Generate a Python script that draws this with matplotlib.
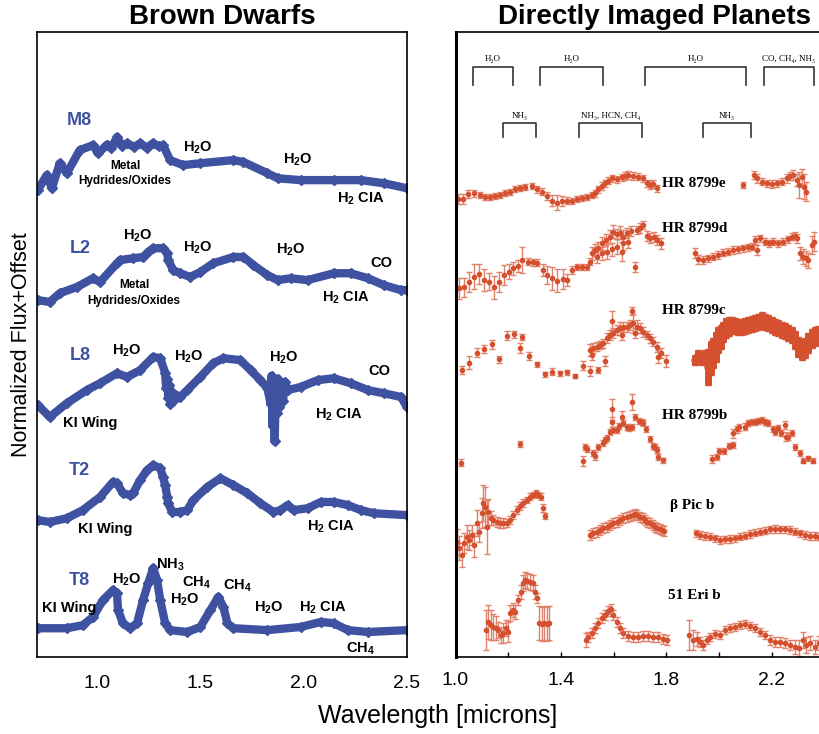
import matplotlib
matplotlib.use('Agg')
import matplotlib.pyplot as plt

plt.rcParams['font.family'] = ['Liberation Sans', 'DejaVu Sans']
plt.rcParams['mathtext.fontset'] = 'custom'
plt.rcParams['mathtext.rm'] = 'Liberation Sans:bold'
plt.rcParams['mathtext.it'] = 'Liberation Sans:bold'
plt.rcParams['mathtext.bf'] = 'Liberation Sans:bold'

BLUE = '#3f52a2'
RED = '#d4502f'
SERIF = ['Liberation Serif', 'DejaVu Serif']

# ---- brown dwarf spectra (wavelength in microns, normalized flux + offset)
m8_wl = [0.714, 0.757, 0.782, 0.820, 0.854, 0.917, 0.981, 1.005, 1.050, 1.070, 1.097, 1.120, 1.146,
         1.180, 1.209, 1.240, 1.272, 1.300, 1.320, 1.354, 1.417, 1.500, 1.660, 1.709, 1.825, 1.874,
         1.985, 2.146, 2.277, 2.388, 2.500]
m8_flux = [7.47, 7.71, 7.50, 7.90, 7.74, 8.11, 8.19, 8.06, 8.20, 8.14, 8.32, 8.18, 8.22,
           8.16, 8.22, 8.15, 8.22, 8.17, 8.19, 7.95, 7.87, 7.90, 7.95, 7.92, 7.74, 7.66,
           7.63, 7.63, 7.63, 7.58, 7.50]

l2_wl = [0.714, 0.772, 0.820, 0.903, 0.981, 1.015, 1.097, 1.112, 1.175, 1.223, 1.248, 1.272, 1.320,
         1.340, 1.345, 1.369, 1.403, 1.451, 1.500, 1.563, 1.660, 1.709, 1.757, 1.825, 1.874, 1.937,
         2.019, 2.146, 2.228, 2.311, 2.388, 2.471, 2.500]
l2_flux = [5.71, 5.68, 5.82, 5.92, 6.06, 6.00, 6.30, 6.35, 6.38, 6.40, 6.48, 6.54, 6.54,
           6.46, 6.35, 6.19, 6.14, 6.08, 6.16, 6.30, 6.40, 6.40, 6.27, 6.11, 6.03, 6.06,
           6.03, 6.14, 6.14, 6.06, 5.95, 5.87, 5.87]

l8_wl = [0.714, 0.772, 0.854, 0.951, 1.015, 1.097, 1.146, 1.209, 1.272, 1.306, 1.330, 1.335, 1.340,
         1.345, 1.350, 1.355, 1.360, 1.370, 1.380, 1.403, 1.437, 1.500, 1.563, 1.612, 1.694, 1.743,
         1.791, 1.825, 1.840, 1.845, 1.850, 1.855, 1.860, 1.865, 1.870, 1.875, 1.880, 1.890, 1.900,
         1.910, 1.922, 1.985, 2.068, 2.146, 2.228, 2.311, 2.388, 2.471, 2.500]
l8_flux = [4.03, 3.84, 4.06, 4.27, 4.38, 4.54, 4.48, 4.59, 4.80, 4.78, 4.55, 4.30, 4.45,
           4.15, 4.35, 4.05, 4.25, 4.10, 4.20, 4.16, 4.27, 4.48, 4.70, 4.78, 4.75, 4.59,
           4.43, 4.30, 4.05, 4.50, 3.70, 4.40, 3.45, 4.35, 3.90, 4.45, 4.00, 4.35, 4.10,
           4.40, 4.27, 4.32, 4.43, 4.46, 4.38, 4.27, 4.22, 4.16, 4.00]

t2_wl = [0.714, 0.772, 0.854, 0.932, 1.015, 1.078, 1.097, 1.126, 1.160, 1.175, 1.209, 1.243, 1.272,
         1.306, 1.320, 1.330, 1.340, 1.345, 1.364, 1.403, 1.437, 1.466, 1.534, 1.597, 1.660, 1.728,
         1.791, 1.854, 1.888, 1.922, 1.951, 2.019, 2.083, 2.146, 2.214, 2.277, 2.340, 2.500]
t2_flux = [2.19, 2.16, 2.22, 2.35, 2.56, 2.80, 2.78, 2.62, 2.59, 2.62, 2.83, 2.99, 3.07,
           3.02, 2.88, 2.75, 2.56, 2.46, 2.32, 2.32, 2.35, 2.51, 2.72, 2.86, 2.75, 2.62,
           2.46, 2.32, 2.35, 2.43, 2.35, 2.38, 2.48, 2.48, 2.43, 2.35, 2.30, 2.27]

t8_wl = [0.714, 0.854, 0.932, 0.981, 1.029, 1.078, 1.097, 1.102, 1.126, 1.160, 1.194, 1.223, 1.248,
         1.272, 1.291, 1.306, 1.330, 1.354, 1.437, 1.500, 1.549, 1.587, 1.612, 1.631, 1.660, 1.825,
         1.985, 2.083, 2.146, 2.214, 2.311, 2.500]
t8_flux = [0.46, 0.46, 0.51, 0.64, 0.91, 1.07, 1.02, 0.75, 0.54, 0.46, 0.54, 0.91, 1.18,
           1.42, 1.23, 0.91, 0.54, 0.43, 0.40, 0.48, 0.75, 0.96, 0.80, 0.54, 0.46, 0.43,
           0.48, 0.56, 0.54, 0.43, 0.40, 0.43]

# ---- directly imaged planets (wavelength, flux + offset, 1-sigma error)
hr8799e_wl = [1.011, 1.030, 1.049, 1.070, 1.093, 1.112, 1.131, 1.150, 1.169, 1.188, 1.207, 1.226, 1.245,
              1.264, 1.289, 1.308, 1.327, 1.346, 1.365, 1.384, 1.403, 1.422, 1.441, 1.460, 1.478, 1.497,
              1.516, 1.529, 1.542, 1.554, 1.567, 1.580, 1.592, 1.611, 1.630, 1.643, 1.655, 1.674, 1.693,
              1.712, 1.725, 1.738, 1.750, 1.765,
              2.091, 2.132, 2.142, 2.161, 2.180, 2.199, 2.218, 2.237, 2.256, 2.268, 2.281, 2.294, 2.304,
              2.313, 2.321, 2.329]
hr8799e_flux = [7.323, 7.323, 7.408, 7.419, 7.392, 7.365, 7.355, 7.376, 7.392, 7.419, 7.445, 7.483, 7.499,
                7.515, 7.536, 7.483, 7.445, 7.376, 7.301, 7.269, 7.301, 7.301, 7.301, 7.323, 7.339, 7.365,
                7.392, 7.419, 7.483, 7.536, 7.579, 7.621, 7.659, 7.643, 7.675, 7.696, 7.712, 7.696, 7.685,
                7.659, 7.579, 7.552, 7.568, 7.499,
                7.552, 7.712, 7.659, 7.605, 7.579, 7.568, 7.579, 7.605, 7.659, 7.696, 7.712, 7.632, 7.552,
                7.685, 7.525, 7.445]
hr8799e_err = [0.08, 0.08, 0.07, 0.06, 0.05, 0.05, 0.05, 0.05, 0.05, 0.05, 0.05, 0.05, 0.05,
               0.05, 0.05, 0.06, 0.06, 0.07, 0.09, 0.12, 0.08, 0.06, 0.05, 0.05, 0.05, 0.05,
               0.05, 0.06, 0.06, 0.06, 0.06, 0.06, 0.06, 0.06, 0.06, 0.06, 0.06, 0.06, 0.06,
               0.06, 0.06, 0.06, 0.06, 0.06,
               0.05, 0.07, 0.07, 0.06, 0.06, 0.06, 0.06, 0.06, 0.07, 0.07, 0.08, 0.10, 0.21,
               0.12, 0.20, 0.15]

hr8799d_wl = [1.015, 1.032, 1.053, 1.070, 1.090, 1.108, 1.128, 1.146, 1.166, 1.184, 1.204, 1.219, 1.238,
              1.251, 1.276, 1.295, 1.310, 1.331, 1.348, 1.367, 1.386, 1.406, 1.424, 1.441, 1.459, 1.478,
              1.497, 1.510, 1.516, 1.529, 1.542, 1.554, 1.571, 1.586, 1.598, 1.611, 1.624, 1.636, 1.649,
              1.664, 1.681, 1.687, 1.700, 1.712, 1.725, 1.738, 1.753, 1.765, 1.778,
              1.535, 1.554, 1.573, 1.592, 1.611, 1.630, 1.636, 1.655,
              1.908, 1.921, 1.940, 1.959, 1.978, 1.997, 2.016, 2.035, 2.053, 2.072, 2.091, 2.110, 2.123,
              2.136, 2.144, 2.155, 2.174, 2.190, 2.205, 2.224, 2.243, 2.262, 2.275, 2.287, 2.296, 2.306,
              2.319, 2.329, 2.338, 2.350, 2.359]
hr8799d_flux = [5.899, 5.915, 6.005, 6.085, 6.123, 6.032, 6.005, 5.915, 6.005, 6.112, 6.165, 6.219, 6.256,
                6.352, 6.325, 6.315, 6.309, 6.192, 6.112, 6.059, 6.021, 6.043, 6.032, 6.192, 6.245, 6.245,
                6.245, 6.325, 6.459, 6.512, 6.539, 6.619, 6.672, 6.725, 6.805, 6.768, 6.789, 6.725, 6.789,
                6.821, 6.235, 6.832, 6.859, 6.912, 6.736, 6.699, 6.725, 6.672, 6.619,
                6.405, 6.459, 6.485, 6.523, 6.565, 6.485, 6.619, 6.645,
                6.459, 6.363, 6.352, 6.379, 6.405, 6.432, 6.469, 6.485, 6.512, 6.523, 6.539, 6.555, 6.565,
                6.672, 6.512, 6.699, 6.645, 6.619, 6.645, 6.619, 6.645, 6.683, 6.725, 6.736, 6.699, 6.459,
                6.405, 6.379, 6.352, 6.592, 6.645]
hr8799d_err = [0.17, 0.15, 0.16, 0.20, 0.16, 0.17, 0.14, 0.18, 0.16, 0.16, 0.12, 0.10, 0.09,
               0.20, 0.06, 0.06, 0.06, 0.10, 0.15, 0.18, 0.18, 0.16, 0.10, 0.06, 0.05, 0.05,
               0.05, 0.06, 0.10, 0.10, 0.10, 0.10, 0.10, 0.10, 0.10, 0.08, 0.10, 0.10, 0.08,
               0.08, 0.08, 0.07, 0.08, 0.07, 0.08, 0.08, 0.08, 0.08, 0.09,
               0.10, 0.10, 0.12, 0.10, 0.12, 0.15, 0.10, 0.10,
               0.08, 0.07, 0.07, 0.06, 0.06, 0.06, 0.06, 0.06, 0.06, 0.06, 0.06, 0.06, 0.06,
               0.06, 0.08, 0.06, 0.06, 0.06, 0.06, 0.06, 0.06, 0.06, 0.06, 0.07, 0.07, 0.10,
               0.12, 0.12, 0.12, 0.15, 0.15]

hr8799c_wl = [1.023, 1.053, 1.080, 1.109, 1.137, 1.166, 1.197, 1.223, 1.245, 1.251, 1.280, 1.310, 1.339,
              1.367, 1.396, 1.424, 1.453, 1.482, 1.510, 1.539, 1.567, 1.510, 1.516, 1.523, 1.535, 1.548,
              1.561, 1.573, 1.586, 1.595, 1.598, 1.611, 1.624, 1.630, 1.636, 1.649, 1.662, 1.668, 1.674,
              1.681, 1.687, 1.700, 1.712, 1.725, 1.738, 1.750, 1.763, 1.769, 1.778, 1.798]
hr8799c_flux = [4.592, 4.709, 4.869, 4.928, 5.003, 4.763, 5.141, 5.163, 4.949, 5.125, 4.816, 4.683, 4.528,
                4.565, 4.539, 4.555, 4.501, 4.661, 4.576, 4.592, 4.741, 4.912, 4.832, 4.939, 4.965, 4.992,
                5.019, 5.099, 5.152, 5.381, 5.179, 5.232, 5.259, 5.152, 5.285, 5.285, 5.312, 5.536, 5.339,
                5.179, 5.285, 5.259, 5.205, 5.152, 5.099, 5.045, 4.965, 4.805, 4.859, 4.736]
hr8799c_err = [0.07, 0.10, 0.07, 0.06, 0.07, 0.06, 0.07, 0.06, 0.08, 0.05, 0.06, 0.04, 0.04,
               0.06, 0.04, 0.04, 0.03, 0.07, 0.08, 0.05, 0.08,
               0.10, 0.08, 0.08, 0.07, 0.07, 0.07, 0.08, 0.08, 0.15, 0.08, 0.08, 0.10, 0.08,
               0.08, 0.08, 0.08, 0.07, 0.15, 0.08, 0.10, 0.08, 0.08, 0.07, 0.07, 0.07, 0.08,
               0.10, 0.08, 0.10]
# K band of HR 8799c: very densely sampled
hr8799c_k_wl = [1.908, 1.921, 1.933, 1.946, 1.959, 1.968, 1.978, 1.986, 1.997, 2.005, 2.016, 2.026, 2.036,
                2.047, 2.060, 2.072, 2.085, 2.098, 2.110, 2.123, 2.136, 2.148, 2.161, 2.174, 2.186, 2.199,
                2.211, 2.224, 2.237, 2.249, 2.262, 2.275, 2.287, 2.300, 2.313, 2.325, 2.338, 2.350, 2.363,
                2.376]
hr8799c_k_flux = [4.752, 4.832, 4.752, 4.832, 4.645, 4.779, 4.859, 4.965, 5.072, 5.125, 5.205, 5.259, 5.285,
                  5.312, 5.296, 5.285, 5.275, 5.296, 5.312, 5.328, 5.339, 5.365, 5.392, 5.365, 5.339, 5.312,
                  5.285, 5.259, 5.232, 5.221, 5.189, 5.152, 5.072, 4.965, 4.912, 4.939, 5.019, 5.099, 5.125,
                  5.152]
hr8799c_k_err = [0.08, 0.08, 0.08, 0.08, 0.29, 0.27, 0.24, 0.24, 0.21, 0.19, 0.16, 0.16, 0.15,
                 0.13, 0.13, 0.13, 0.13, 0.13, 0.13, 0.13, 0.13, 0.13, 0.13, 0.13, 0.13, 0.13,
                 0.13, 0.13, 0.13, 0.13, 0.13, 0.13, 0.15, 0.16, 0.16, 0.16, 0.16, 0.15, 0.15,
                 0.15]

hr8799b_wl = [1.021, 1.245, 1.482, 1.491, 1.500, 1.520, 1.529, 1.542, 1.558, 1.567, 1.576, 1.586, 1.592,
              1.595, 1.598, 1.611, 1.621, 1.630, 1.636, 1.649, 1.659, 1.668, 1.668, 1.681, 1.697, 1.706,
              1.712, 1.722, 1.738, 1.748, 1.756, 1.763, 1.769, 1.788, 1.971, 1.990, 2.000, 2.019, 2.038,
              2.053, 2.051, 2.069, 2.076, 2.098, 2.110, 2.123, 2.136, 2.148, 2.161, 2.174, 2.186, 2.203,
              2.211, 2.224, 2.233, 2.249, 2.253, 2.262, 2.275, 2.287, 2.306, 2.319, 2.338, 2.357]
hr8799b_flux = [3.109, 3.408, 3.141, 3.355, 3.323, 3.269, 3.216, 3.365, 3.419, 3.472, 3.499, 3.605, 3.963,
                3.765, 3.632, 3.632, 3.696, 3.835, 3.739, 3.685, 3.659, 4.085, 3.685, 3.845, 3.781, 3.765,
                3.749, 3.643, 3.483, 3.376, 3.355, 3.312, 3.205, 3.152, 3.168, 3.205, 3.296, 3.296, 3.376,
                3.392, 3.579, 3.643, 3.675, 3.685, 3.739, 3.760, 3.765, 3.781, 3.792, 3.760, 3.739, 3.643,
                3.605, 3.659, 3.589, 3.712, 3.525, 3.525, 3.579, 3.365, 3.259, 3.141, 3.179, 3.141]
hr8799b_err = [0.06, 0.05, 0.08, 0.05, 0.05, 0.05, 0.07, 0.05, 0.05, 0.05, 0.05, 0.05, 0.17,
               0.08, 0.05, 0.05, 0.05, 0.10, 0.05, 0.05, 0.05, 0.13, 0.05, 0.05, 0.05, 0.05,
               0.05, 0.05, 0.05, 0.05, 0.05, 0.05, 0.05, 0.04, 0.06, 0.05, 0.05, 0.05, 0.05,
               0.05, 0.07, 0.06, 0.06, 0.06, 0.05, 0.05, 0.05, 0.05, 0.05, 0.05, 0.05, 0.05,
               0.05, 0.05, 0.05, 0.06, 0.07, 0.06, 0.05, 0.05, 0.05, 0.04, 0.04, 0.04]

betapic_wl = [1.004, 1.015, 1.023, 1.032, 1.042, 1.053, 1.061, 1.070, 1.080, 1.090, 1.099, 1.106, 1.112,
              1.118, 1.125, 1.133, 1.144, 1.156, 1.169, 1.181, 1.194, 1.207, 1.219, 1.232, 1.245, 1.257,
              1.270, 1.283, 1.295, 1.305, 1.314, 1.323, 1.333, 1.339,
              1.510, 1.523, 1.535, 1.548, 1.561, 1.573, 1.586, 1.598, 1.611, 1.624, 1.636, 1.649, 1.662,
              1.672, 1.681, 1.689, 1.700, 1.710, 1.718, 1.727, 1.738, 1.748, 1.756, 1.765, 1.775, 1.783,
              1.791,
              1.912, 1.927, 1.946, 1.965, 1.984, 2.003, 2.022, 2.041, 2.060, 2.079, 2.098, 2.117, 2.136,
              2.155, 2.174, 2.193, 2.211, 2.230, 2.249, 2.268, 2.287, 2.306, 2.325, 2.344, 2.363, 2.380]
betapic_flux = [1.845, 1.739, 1.632, 1.819, 1.925, 1.872, 1.952, 1.792, 2.139, 2.005, 2.299, 2.459, 2.405,
                2.085, 2.325, 2.219, 2.192, 2.165, 2.149, 2.139, 2.149, 2.192, 2.272, 2.352, 2.416, 2.459,
                2.512, 2.565, 2.592, 2.619, 2.592, 2.565, 2.379, 2.256,
                1.952, 1.979, 2.005, 2.032, 2.059, 2.085, 2.112, 2.139, 2.165, 2.192, 2.219, 2.235, 2.256,
                2.272, 2.288, 2.272, 2.245, 2.219, 2.192, 2.165, 2.139, 2.112, 2.085, 2.064, 2.043, 2.032,
                2.016,
                1.979, 1.952, 1.936, 1.925, 1.899, 1.872, 1.883, 1.888, 1.899, 1.925, 1.941, 1.968, 1.989,
                2.005, 2.021, 2.043, 2.048, 2.043, 2.043, 2.032, 2.005, 1.979, 1.952, 1.936, 1.936, 1.925]
betapic_err = [0.21, 0.19, 0.19, 0.16, 0.19, 0.16, 0.16, 0.19, 0.21, 0.16, 0.24, 0.29, 0.32,
               0.43, 0.21, 0.11, 0.08, 0.08, 0.08, 0.08, 0.064, 0.064, 0.064, 0.064, 0.064, 0.064,
               0.053, 0.053, 0.053, 0.053, 0.053, 0.053, 0.064, 0.053,
               0.08, 0.08, 0.08, 0.08, 0.08, 0.08, 0.08, 0.08, 0.08, 0.08, 0.08, 0.08, 0.08,
               0.08, 0.08, 0.08, 0.08, 0.08, 0.08, 0.08, 0.08, 0.08, 0.08, 0.08, 0.08, 0.08,
               0.08,
               0.06, 0.06, 0.06, 0.06, 0.06, 0.06, 0.06, 0.06, 0.06, 0.06, 0.06, 0.06, 0.06,
               0.06, 0.06, 0.06, 0.06, 0.06, 0.06, 0.06, 0.06, 0.06, 0.06, 0.06, 0.06, 0.06]

eri51_wl = [1.116, 1.125, 1.133, 1.144, 1.154, 1.163, 1.171, 1.181, 1.192, 1.200, 1.207, 1.217, 1.226,
            1.238, 1.247, 1.255, 1.264, 1.272, 1.283, 1.293, 1.302, 1.310, 1.318, 1.327, 1.336, 1.346,
            1.353,
            1.495, 1.504, 1.516, 1.529, 1.542, 1.554, 1.567, 1.580, 1.588, 1.598, 1.611, 1.624, 1.636,
            1.655, 1.674, 1.693, 1.712, 1.731, 1.750, 1.769, 1.788, 1.801,
            1.887, 1.899, 1.914, 1.927, 1.940, 1.952, 1.965, 1.984, 2.003, 2.022, 2.041, 2.060, 2.079,
            2.098, 2.117, 2.136, 2.155, 2.174, 2.193, 2.211, 2.230, 2.249, 2.268, 2.287, 2.304, 2.316,
            2.329, 2.344, 2.363, 2.380]
eri51_flux = [0.432, 0.565, 0.512, 0.485, 0.459, 0.432, 0.352, 0.379, 0.459, 0.405, 0.699, 0.752, 0.725,
              0.912, 1.045, 1.179, 1.232, 1.221, 1.205, 1.179, 1.045, 0.939, 0.539, 0.528, 0.539, 0.528,
              0.539,
              0.272, 0.325, 0.379, 0.459, 0.539, 0.619, 0.672, 0.741, 0.763, 0.672, 0.565, 0.459, 0.379,
              0.336, 0.325, 0.325, 0.336, 0.336, 0.315, 0.315, 0.283, 0.272,
              0.352, 0.272, 0.283, 0.245, 0.192, 0.272, 0.325, 0.368, 0.352, 0.432, 0.459, 0.485, 0.512,
              0.528, 0.496, 0.459, 0.405, 0.352, 0.272, 0.245, 0.245, 0.219, 0.192, 0.165, 0.139, 0.272,
              0.192, 0.219, 0.165, 0.219]
eri51_err = [0.32, 0.27, 0.24, 0.21, 0.19, 0.13, 0.13, 0.16, 0.13, 0.16, 0.13, 0.11, 0.11,
             0.08, 0.11, 0.13, 0.13, 0.13, 0.13, 0.13, 0.11, 0.08, 0.27, 0.27, 0.27, 0.27,
             0.27,
             0.11, 0.08, 0.08, 0.08, 0.08, 0.08, 0.08, 0.08, 0.08, 0.08, 0.08, 0.08, 0.08,
             0.08, 0.08, 0.08, 0.08, 0.08, 0.08, 0.08, 0.08, 0.08,
             0.24, 0.16, 0.11, 0.08, 0.08, 0.064, 0.064, 0.064, 0.064, 0.064, 0.064, 0.064, 0.064,
             0.064, 0.064, 0.064, 0.064, 0.064, 0.08, 0.08, 0.08, 0.08, 0.08, 0.11, 0.13, 0.13,
             0.13, 0.11, 0.11, 0.11]

# absorption bands marked above the planet spectra
bands_top = ['H₂O', 'H₂O', 'H₂O', 'CO, CH₄, NH₃']
bands_top_range = [(1.066, 1.218), (1.320, 1.559), (1.718, 2.101), (2.169, 2.359)]
bands_low = ['NH₃', 'NH₃, HCN, CH₄', 'NH₃']
bands_low_range = [(1.180, 1.305), (1.468, 1.707), (1.938, 2.120)]

fig = plt.figure(figsize=(8.2, 7.34), dpi=100)
ax1 = fig.add_axes([37 / 820, 77 / 734, 370 / 820, 625 / 734])
ax2 = fig.add_axes([455.5 / 820, 77 / 734, 395.6 / 820, 625 / 734])

# ---------------- left: brown dwarfs
for wl, fl in [(m8_wl, m8_flux), (l2_wl, l2_flux), (l8_wl, l8_flux), (t2_wl, t2_flux), (t8_wl, t8_flux)]:
    ax1.plot(wl, fl, '-', color=BLUE, lw=6, solid_joinstyle='round', solid_capstyle='round')
    ax1.plot(wl, fl, 'D', color=BLUE, ms=5)

ax1.set_xlim(0.71, 2.5)
ax1.set_ylim(0, 10)
ax1.set_yticks([])
ax1.set_xticks([1.0, 1.5, 2.0, 2.5])
ax1.set_xticklabels(['1.0', '1.5', '2.0', '2.5'])
ax1.tick_params(axis='x', length=0, pad=13, labelsize=14)
for s in ax1.spines.values():
    s.set_linewidth(1.2)

sp_labels = [('M8', 0.917, 8.58), ('L2', 0.917, 6.53), ('L8', 0.917, 4.83),
             ('T2', 0.917, 2.99), ('T8', 0.917, 1.22)]
for txt, x, y in sp_labels:
    ax1.text(x, y, txt, color=BLUE, fontsize=13, fontweight='bold', ha='center', va='center')

feat = [('H$_2$O', 1.490, 8.14), ('H$_2$O', 1.971, 7.95), ('H$_2$ CIA', 2.277, 7.33),
        ('H$_2$O', 1.199, 6.74), ('H$_2$O', 1.490, 6.54), ('H$_2$O', 1.937, 6.51),
        ('CO', 2.374, 6.30), ('H$_2$ CIA', 2.204, 5.74),
        ('H$_2$O', 1.146, 4.90), ('H$_2$O', 1.442, 4.80), ('H$_2$O', 1.903, 4.78),
        ('CO', 2.364, 4.58), ('KI Wing', 0.966, 3.74), ('H$_2$ CIA', 2.170, 3.87),
        ('KI Wing', 1.039, 2.05), ('H$_2$ CIA', 2.131, 2.08),
        ('H$_2$O', 1.146, 1.23), ('NH$_3$', 1.354, 1.47), ('CH$_4$', 1.481, 1.18),
        ('H$_2$O', 1.427, 0.91), ('CH$_4$', 1.680, 1.14), ('H$_2$O', 1.830, 0.78),
        ('H$_2$ CIA', 2.092, 0.78), ('KI Wing', 0.864, 0.78), ('CH$_4$', 2.277, 0.13)]
for txt, x, y in feat:
    ax1.text(x, y, txt, fontsize=10.5, fontweight='bold', ha='center', va='center')

for x, y in [(1.136, 7.86), (1.180, 5.95)]:
    ax1.text(x, y, 'Metal', fontsize=8.5, fontweight='bold', ha='center', va='center')
for x, y in [(1.136, 7.62), (1.180, 5.70)]:
    ax1.text(x, y, 'Hydrides/Oxides', fontsize=8.5, fontweight='bold', ha='center', va='center')

# ---------------- right: directly imaged planets
eb = dict(fmt='o', color=RED, ms=3, ecolor='#e2816a', elinewidth=1, capsize=2.4, capthick=1)
planets = [(hr8799e_wl, hr8799e_flux, hr8799e_err), (hr8799d_wl, hr8799d_flux, hr8799d_err),
           (hr8799c_wl, hr8799c_flux, hr8799c_err), (hr8799b_wl, hr8799b_flux, hr8799b_err),
           (betapic_wl, betapic_flux, betapic_err), (eri51_wl, eri51_flux, eri51_err)]
for wl, fl, er in planets:
    ax2.errorbar(wl, fl, yerr=er, **eb)
ax2.errorbar(hr8799c_k_wl, hr8799c_k_flux, yerr=hr8799c_k_err, fmt='o', color=RED, ms=5,
             ecolor=RED, elinewidth=5, capsize=2.5, capthick=1)

names = [('HR 8799e', 1.783, 7.58), ('HR 8799d', 1.783, 6.86), ('HR 8799c', 1.783, 5.55),
         ('HR 8799b', 1.783, 3.87), ('β Pic b', 1.813, 2.43), ('51 Eri b', 1.806, 0.98)]
for txt, x, y in names:
    ax2.text(x, y, txt, family=SERIF, fontsize=11, fontweight='bold', ha='left', va='center')

for name, (x0, x1) in zip(bands_top, bands_top_range):
    ax2.plot([x0, x0, x1, x1], [9.15, 9.44, 9.44, 9.15], color='#333333', lw=1.2)
    ax2.text((x0 + x1) / 2, 9.50, name, family=SERIF, fontsize=6.5, ha='center', va='bottom')
for name, (x0, x1) in zip(bands_low, bands_low_range):
    ax2.plot([x0, x0, x1, x1], [8.32, 8.54, 8.54, 8.32], color='#333333', lw=1.2)
    ax2.text((x0 + x1) / 2, 8.60, name, family=SERIF, fontsize=6.5, ha='center', va='bottom')

ax2.set_xlim(1.0, 2.5)
ax2.set_ylim(0, 10)
ax2.set_yticks([])
ax2.set_xticks([1.0, 1.2, 1.4, 1.6, 1.8, 2.0, 2.2, 2.4])
ax2.set_xticklabels(['1.0', '', '1.4', '', '1.8', '', '2.2', ''])
ax2.tick_params(axis='x', direction='in', length=3.6, width=1, pad=11, labelsize=14)
for s in ax2.spines.values():
    s.set_linewidth(1.2)
ax2.spines['left'].set_linewidth(2.2)

fig.text(222 / 820, 1 - 17 / 734, 'Brown Dwarfs', fontsize=20, fontweight='bold', ha='center', va='center')
fig.text(655 / 820, 1 - 17 / 734, 'Directly Imaged Planets', fontsize=20, fontweight='bold',
         ha='center', va='center')
fig.text(22 / 820, 1 - 345 / 734, 'Normalized Flux+Offset', fontsize=15.5, rotation=90,
         ha='center', va='center')
fig.text(438 / 820, 1 - 716 / 734, 'Wavelength [microns]', fontsize=18, ha='center', va='center')

fig.savefig('out.png', dpi=100)
